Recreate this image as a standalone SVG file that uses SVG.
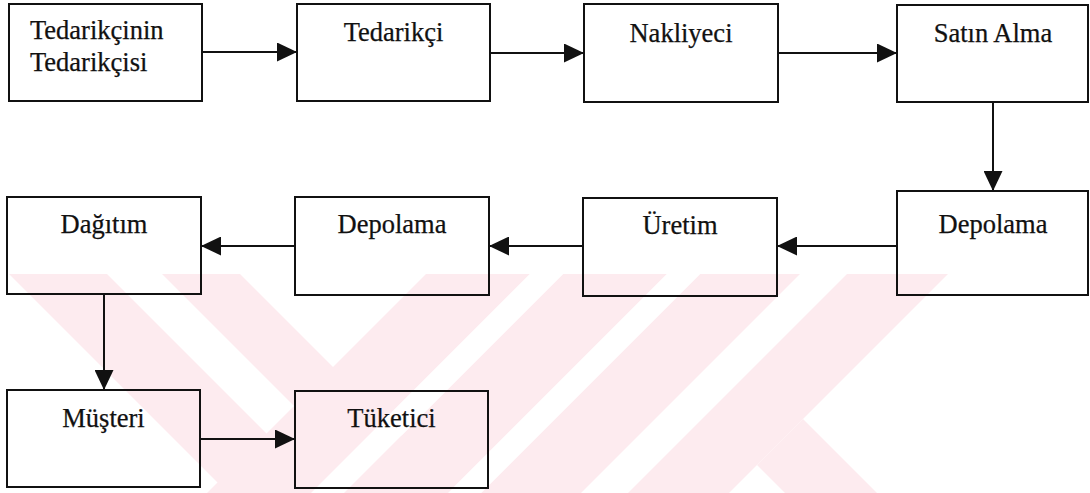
<svg xmlns="http://www.w3.org/2000/svg" width="1090" height="493" viewBox="0 0 1090 493">
  <style>
    .box { fill: none; stroke: #111; stroke-width: 2; }
    .lbl { font-family: "Liberation Serif", "Times New Roman", serif; font-size: 26.5px; fill: #111; stroke: #111; stroke-width: 0.25; text-anchor: middle; }
    .lbl.left { text-anchor: start; }
    .conn { stroke: #111; stroke-width: 2; fill: none; marker-end: url(#arrow); }
    .wm { fill: #fdebef; stroke: none; }
    .gap { fill: #ffffff; stroke: none; }
  </style>
  <defs>
    <marker id="arrow" markerUnits="userSpaceOnUse" markerWidth="20" markerHeight="19" refX="20" refY="9.5" orient="auto">
      <path d="M0,0 L20,9.5 L0,19 Z" fill="#111"/>
    </marker>
  </defs>

  <rect x="0" y="0" width="1090" height="493" fill="#ffffff"/>

  <!-- faint background emblem made of diagonal bands -->
  <g id="emblem">
    <!-- wide left arm -->
    <polygon class="wm" points="9,274 240,274 459,493 228,493"/>
    <!-- rising bands -->
    <polygon class="wm" points="426,274 530,274 311,493 207,493"/>
    <polygon class="wm" points="563,274 667,274 448,493 344,493"/>
    <polygon class="wm" points="700,274 800,274 581,493 481,493"/>
    <polygon class="wm" points="847,274 948,274 729,493 628,493"/>
    <!-- lower right leg -->
    <polygon class="wm" points="757,465 803,419 877,493 785,493"/>
    <!-- light gaps cut through the bands -->
    <polygon class="gap" points="107,274 162,274 294,406 266.5,433.5"/>
    <polygon class="gap" points="530,274 563,274 344,493 311,493"/>
    <polygon class="gap" points="667,274 700,274 481,493 448,493"/>
  </g>

  <!-- connectors -->
  <g id="connectors">
    <line class="conn" x1="202" y1="52" x2="297" y2="52"/>
    <line class="conn" x1="490" y1="53" x2="584" y2="53"/>
    <line class="conn" x1="778" y1="53" x2="897" y2="53"/>
    <line class="conn" x1="993" y1="102" x2="993" y2="191"/>
    <line class="conn" x1="897" y1="246" x2="777" y2="246"/>
    <line class="conn" x1="583" y1="246" x2="489" y2="246"/>
    <line class="conn" x1="295" y1="246" x2="201" y2="246"/>
    <line class="conn" x1="104" y1="294" x2="104" y2="390"/>
    <line class="conn" x1="200" y1="439" x2="295" y2="439"/>
  </g>

  <!-- row 1 -->
  <g id="tedarikcinin-tedarikcisi">
    <rect class="box" x="9" y="4" width="193" height="97"/>
    <text class="lbl left" x="30" y="39">Tedarikçinin</text>
    <text class="lbl left" x="30" y="71">Tedarikçisi</text>
  </g>
  <g id="tedarikci">
    <rect class="box" x="297" y="4" width="193" height="97"/>
    <text class="lbl" x="393.5" y="41">Tedarikçi</text>
  </g>
  <g id="nakliyeci">
    <rect class="box" x="584" y="4" width="194" height="98"/>
    <text class="lbl" x="681" y="42">Nakliyeci</text>
  </g>
  <g id="satin-alma">
    <rect class="box" x="897" y="5" width="191" height="97"/>
    <text class="lbl" x="993" y="42">Satın Alma</text>
  </g>

  <!-- row 2 -->
  <g id="depolama-1">
    <rect class="box" x="897" y="191" width="191" height="104"/>
    <text class="lbl" x="993" y="233">Depolama</text>
  </g>
  <g id="uretim">
    <rect class="box" x="583" y="198" width="194" height="98"/>
    <text class="lbl" x="680" y="234">Üretim</text>
  </g>
  <g id="depolama-2">
    <rect class="box" x="295" y="197" width="194" height="98"/>
    <text class="lbl" x="392" y="233">Depolama</text>
  </g>
  <g id="dagitim">
    <rect class="box" x="7" y="197" width="194" height="97"/>
    <text class="lbl" x="104" y="233">Dağıtım</text>
  </g>

  <!-- row 3 -->
  <g id="musteri">
    <rect class="box" x="7" y="390" width="193" height="97"/>
    <text class="lbl" x="103.5" y="427">Müşteri</text>
  </g>
  <g id="tuketici">
    <rect class="box" x="295" y="391" width="193" height="97"/>
    <text class="lbl" x="391.5" y="427">Tüketici</text>
  </g>
</svg>
